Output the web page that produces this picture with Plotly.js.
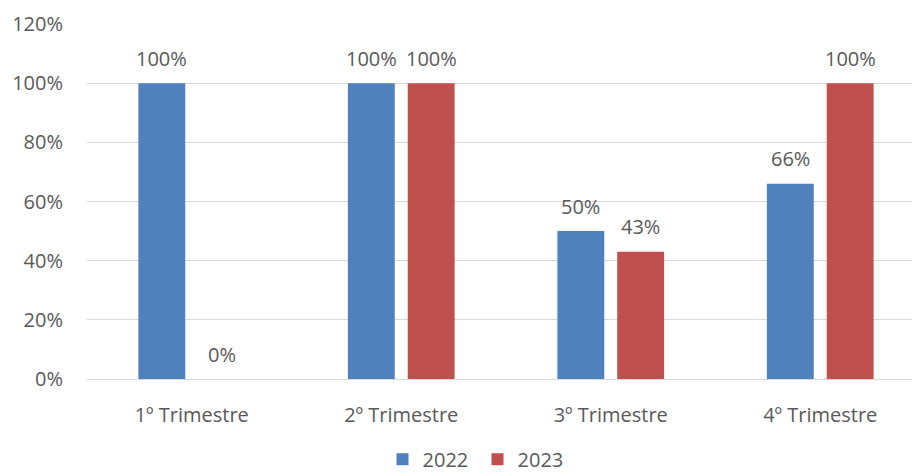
<!DOCTYPE html>
<html>
<head>
<meta charset="utf-8">
<script src="https://cdn.plot.ly/plotly-3.0.1.min.js"></script>
<style>html,body{margin:0;padding:0;background:#fff;overflow:hidden;width:912px;height:472px;}#chart{width:925px;height:472px;}</style>
</head>
<body>
<div id="chart"></div>
<script>
const categories = ["1º Trimestre", "2º Trimestre", "3º Trimestre", "4º Trimestre"];
const values2022 = [1.00, 1.00, 0.50, 0.66];
const values2023 = [0.00, 1.00, 0.43, 1.00];
const seriesNames = ["2022", "2023"];
const tickValues = [0, 0.2, 0.4, 0.6, 0.8, 1.0, 1.2];
const tickLabels = ["0%", "20%", "40%", "60%", "80%", "100%", "120%"];

const colors = ["#4F81BD", "#C0504D"];
const textColor = "#595959";
const fontFamily = "'Open Sans', Lato, sans-serif";
const fs = 20;

const traces = [values2022, values2023].map((vals, i) => ({
  type: "bar",
  name: seriesNames[i],
  x: categories,
  y: vals,
  marker: { color: colors[i] },
  hoverinfo: "none"
}));

const annotations = [];
[values2022, values2023].forEach((vals, i) => {
  vals.forEach((v, j) => {
    annotations.push({
      x: categories[j], y: v, xref: "x", yref: "y",
      text: Math.round(v * 100) + "%",
      showarrow: false,
      xshift: i === 0 ? -30 : 30,
      yshift: 25,
      yanchor: "middle",
      font: { family: fontFamily, size: fs, color: textColor }
    });
  });
});

const layout = {
  width: 925, height: 472,
  margin: { l: 87, r: 0, t: 24, b: 93, autoexpand: false },
  paper_bgcolor: "#fff", plot_bgcolor: "#fff",
  barmode: "group",
  bargap: 0.4286,
  bargroupgap: 0.217,
  font: { family: fontFamily, size: fs, color: textColor },
  showlegend: true,
  legend: {
    orientation: "h", x: 0.466, xanchor: "center", y: -0.226, yanchor: "middle",
    font: { family: fontFamily, size: fs, color: textColor },
    itemwidth: 30, entrywidth: 50, entrywidthmode: "pixels", traceorder: "normal"
  },
  xaxis: {
    type: "category",
    automargin: false,
    showgrid: false,
    showline: true, linecolor: "#d9d9d9", linewidth: 1,
    ticks: "",
    ticklabelstandoff: 18,
    tickfont: { family: fontFamily, size: fs, color: textColor },
    fixedrange: true
  },
  yaxis: {
    range: [0, 1.2],
    automargin: false,
    tickvals: tickValues,
    ticktext: tickLabels,
    showgrid: true, gridcolor: "#d9d9d9", gridwidth: 1,
    zeroline: false,
    showline: false,
    ticks: "",
    ticklabelstandoff: 23,
    tickfont: { family: fontFamily, size: fs, color: textColor },
    fixedrange: true
  },
  annotations: annotations
};

Plotly.newPlot("chart", traces, layout, { displayModeBar: false, staticPlot: true });
</script>
</body>
</html>
